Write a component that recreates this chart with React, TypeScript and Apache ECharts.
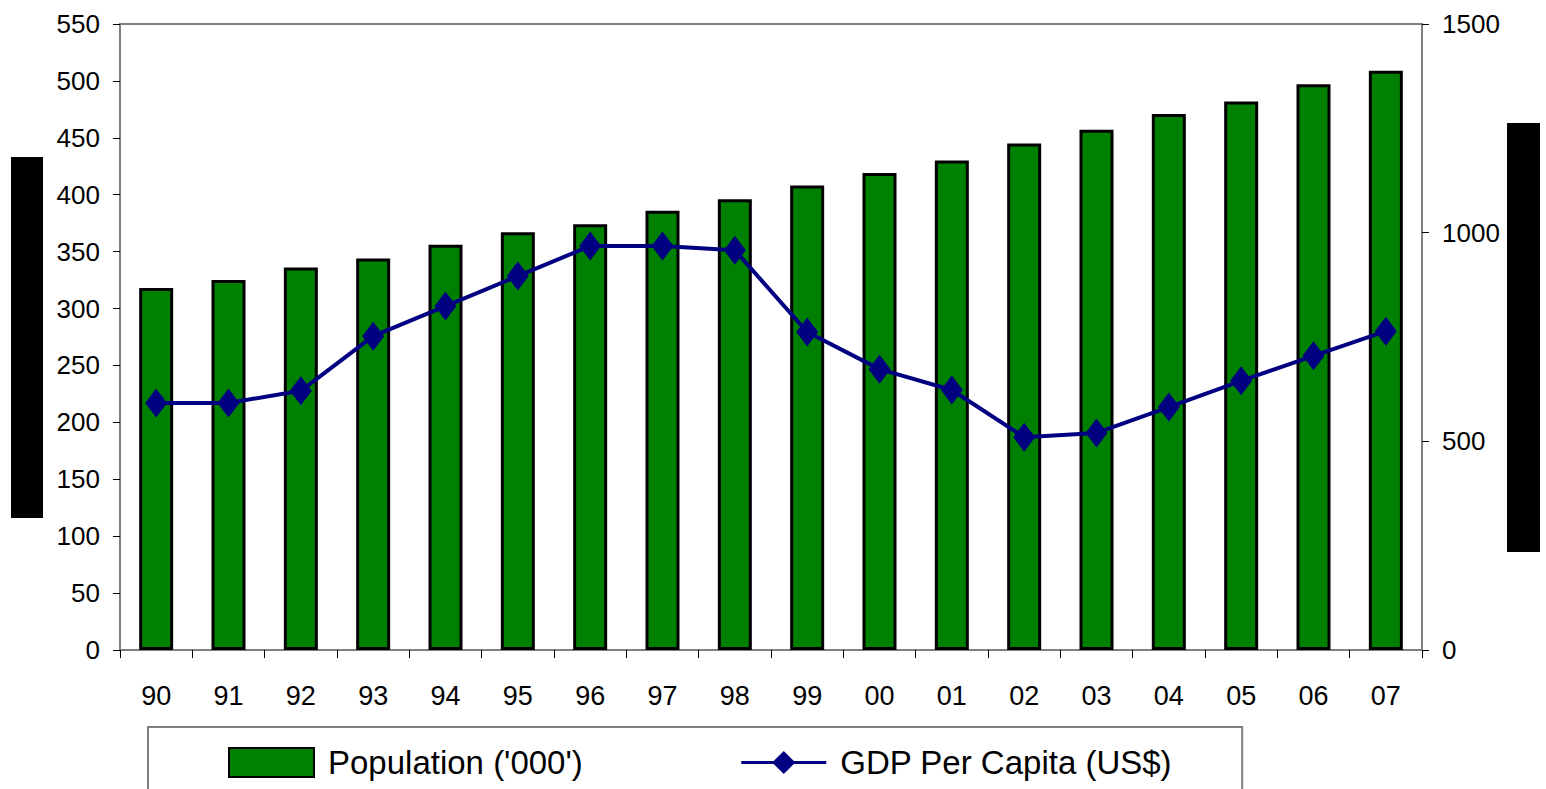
import React, { useEffect, useRef } from "react";
import * as echarts from "echarts";

const categories = ["90","91","92","93","94","95","96","97","98","99","00","01","02","03","04","05","06","07"];
const population = [318, 325, 336, 344, 356, 367, 374, 386, 396, 408, 419, 430, 445, 457, 471, 482, 497, 509];
const gdpPerCapita = [592, 592, 621, 752, 824, 896, 968, 968, 958, 762, 673, 623, 510, 520, 582, 645, 705, 764];
const leftTicks = { min: 0, max: 550, interval: 50 };
const rightTicks = { min: 0, max: 1500, interval: 500 };

const FONT = "'Liberation Sans', Arial, sans-serif";

export default function App() {
  const ref = useRef<HTMLDivElement>(null);
  useEffect(() => {
    if (!ref.current) return;
    const chart = echarts.init(ref.current, null, { renderer: "svg" });
    chart.setOption({
      animation: false,
      backgroundColor: "#ffffff",
      textStyle: { fontFamily: FONT },
      grid: {
        left: 120, right: 124, top: 24, bottom: 139,
        show: true, borderColor: "#808080", borderWidth: 2,
      },
      legend: {
        left: 148, top: 727,
        padding: [19, 70, 20, 80],
        borderColor: "#808080", borderWidth: 2,
        itemWidth: 85, itemHeight: 29, itemGap: 157,
        lineStyle: { width: 3 },
        textStyle: { fontFamily: FONT, fontSize: 33, color: "#000", padding: [0, 0, 0, 9] },
        data: [
          { name: "Population ('000')", icon: "rect" },
          { name: "GDP Per Capita (US$)", lineStyle: { width: 3 } },
        ],
      },
      xAxis: {
        type: "category",
        data: categories,
        boundaryGap: true,
        axisLine: { lineStyle: { color: "#808080", width: 2 } },
        axisTick: { show: true, interval: 0, length: 8, lineStyle: { color: "#000", width: 1 } },
        axisLabel: { fontFamily: FONT, fontSize: 27, color: "#000", margin: 32, interval: 0 },
      },
      yAxis: [
        {
          type: "value", ...leftTicks,
          splitLine: { show: false },
          axisLine: { show: true, lineStyle: { color: "#808080", width: 2 } },
          axisTick: { show: true, length: 7, lineStyle: { color: "#000", width: 1 } },
          axisLabel: { fontFamily: FONT, fontSize: 26, color: "#000", margin: 20 },
        },
        {
          type: "value", ...rightTicks,
          position: "right",
          splitLine: { show: false },
          axisLine: { show: true, lineStyle: { color: "#808080", width: 2 } },
          axisTick: { show: true, length: 7, lineStyle: { color: "#000", width: 1 } },
          axisLabel: { fontFamily: FONT, fontSize: 26, color: "#000", margin: 20, formatter: (v: number) => String(v) },
        },
      ],
      series: [
        {
          name: "Population ('000')",
          type: "bar",
          data: population,
          barWidth: 34,
          itemStyle: { color: "#008000", borderColor: "#000", borderWidth: 3 },
        },
        {
          name: "GDP Per Capita (US$)",
          type: "line",
          yAxisIndex: 1,
          data: gdpPerCapita,
          symbol: "diamond",
          symbolSize: [22, 29],
          lineStyle: { color: "#000080", width: 4 },
          itemStyle: { color: "#000080" },
        },
      ],
      graphic: [
        { type: "rect", shape: { x: 11, y: 157, width: 32, height: 361 }, style: { fill: "#000" } },
        { type: "rect", shape: { x: 1507, y: 123, width: 33, height: 429 }, style: { fill: "#000" } },
      ],
    });
    return () => chart.dispose();
  }, []);
  return (
    <div
      ref={ref}
      style={{ position: "fixed", left: 0, top: 0, width: 1546, height: 789 }}
    />
  );
}
